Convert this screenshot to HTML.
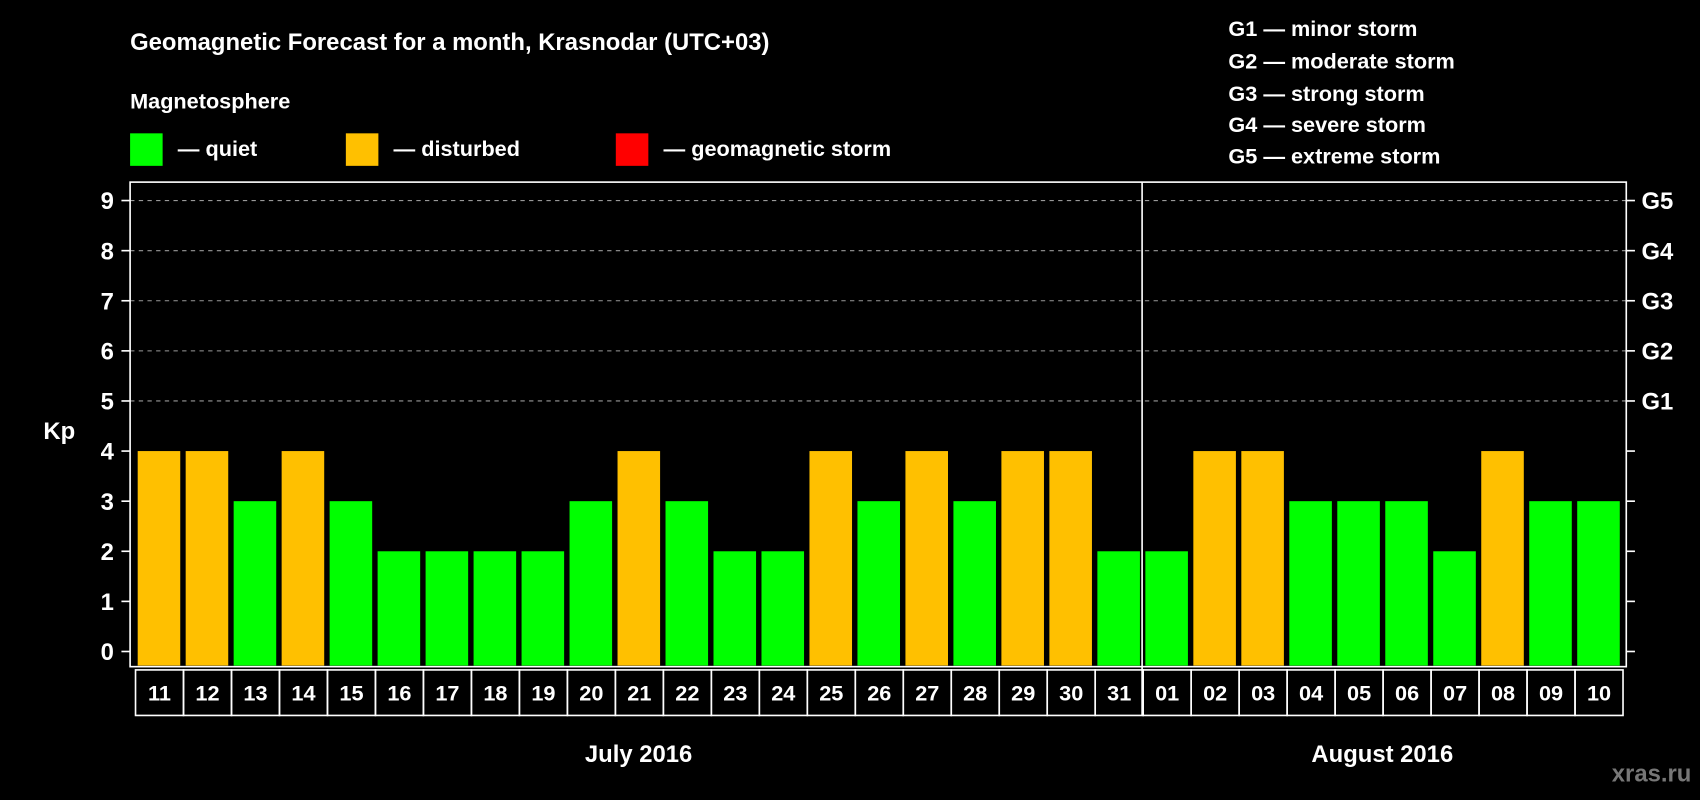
<!DOCTYPE html>
<html><head><meta charset="utf-8"><style>
html,body{margin:0;padding:0;background:#000;}
svg{display:block;font-family:"Liberation Sans",sans-serif;font-weight:bold;}
</style></head><body>
<svg id="chart" width="1700" height="800" viewBox="0 0 1568 738" preserveAspectRatio="none" xmlns="http://www.w3.org/2000/svg">
<rect x="0" y="0" width="1568" height="738" fill="#000"/>
<text x="120" y="46" fill="#fff" font-size="22">Geomagnetic Forecast for a month, Krasnodar (UTC+03)</text>
<text x="120" y="100" fill="#fff" font-size="20">Magnetosphere</text>
<g><rect x="120" y="123" width="30" height="30" fill="#00ff00"/><text x="164" y="144" fill="#fff" font-size="20">— quiet</text></g>
<g><rect x="319" y="123" width="30" height="30" fill="#ffc000"/><text x="363" y="144" fill="#fff" font-size="20">— disturbed</text></g>
<g><rect x="568" y="123" width="30" height="30" fill="#ff0000"/><text x="612" y="144" fill="#fff" font-size="20">— geomagnetic storm</text></g>
<g fill="#fff" font-size="20">
<text x="1133" y="33">G1 — minor storm</text>
<text x="1133" y="63">G2 — moderate storm</text>
<text x="1133" y="93">G3 — strong storm</text>
<text x="1133" y="122">G4 — severe storm</text>
<text x="1133" y="151">G5 — extreme storm</text>
</g>
<text x="40" y="405" fill="#fff" font-size="22">Kp</text>
<g id="grid"></g><g id="bars"></g><g id="axes"></g><g id="labels"></g>
<text x="589" y="703" fill="#fff" font-size="22" text-anchor="middle">July 2016</text>
<text x="1275" y="703" fill="#fff" font-size="22" text-anchor="middle">August 2016</text>
<text x="1560" y="721" fill="#777" font-size="22" text-anchor="end">xras.ru</text>
</svg>
<script>
const days = ["11","12","13","14","15","16","17","18","19","20","21","22","23","24","25","26","27","28","29","30","31","01","02","03","04","05","06","07","08","09","10"];
const kpValues = [4,4,3,4,3,2,2,2,2,3,4,3,2,2,4,3,4,3,4,4,2,2,4,4,3,3,3,2,4,3,3];
const yTicks = [0,1,2,3,4,5,6,7,8,9];
const gLabels = ["G1","G2","G3","G4","G5"];
const NS="http://www.w3.org/2000/svg";
const L=120,R=1500,T=168,B=615,Y0=601,Y9=185;
const y=v=>Y0-(Y9-Y0)/-9*v;
const pitch=(1497-125)/days.length;
const x=i=>125+i*pitch;
function mk(t,a,p){const e=document.createElementNS(NS,t);for(const k in a)e.setAttribute(k,a[k]);p.appendChild(e);return e;}
const grid=document.getElementById('grid'),bars=document.getElementById('bars'),axes=document.getElementById('axes'),labels=document.getElementById('labels');
yTicks.forEach(v=>{
  if(v>=5){const g=mk('line',{x1:L,x2:R,y1:y(v),y2:y(v),stroke:'#999','stroke-dasharray':'4,4','stroke-width':1},grid);
  
  }
  mk('line',{x1:L-8,x2:L,y1:y(v),y2:y(v),stroke:'#fff','stroke-width':1.5},axes);
  mk('line',{x1:R,x2:R+8,y1:y(v),y2:y(v),stroke:'#fff','stroke-width':1.5},axes);
  const t=mk('text',{x:105,y:y(v)+8,fill:'#fff','font-size':22,'text-anchor':'end'},axes);
  t.textContent=v;
  
  
});
gLabels.forEach((g,i)=>{
  const t=mk('text',{x:1514,y:y(5+i)+8,fill:'#fff','font-size':22},axes);
  t.textContent=g;
  
  
});
kpValues.forEach((v,i)=>{
  const c=v>=5?'#ff0000':(v>=4?'#ffc000':'#00ff00');
  const b=mk('rect',{x:x(i)+2,y:y(v),width:pitch-5,height:B-y(v)-1,fill:c},bars);
  
  
  const cell=mk('rect',{x:x(i),y:618,width:pitch,height:42,fill:'none',stroke:'#fff','stroke-width':1.5},labels);
  
  
  const t=mk('text',{x:x(i)+pitch/2,y:646,fill:'#fff','font-size':20,'text-anchor':'middle'},labels);
  t.textContent=days[i];
  
  
});
const fr=mk('rect',{x:L,y:T,width:R-L,height:B-T,fill:'none',stroke:'#fff','stroke-width':1.5},axes);


const dx=x(days.indexOf("01"))-1;
const dv=mk('line',{x1:dx,x2:dx,y1:T,y2:660,stroke:'#fff','stroke-width':1.5},axes);


</script>
</body></html>
